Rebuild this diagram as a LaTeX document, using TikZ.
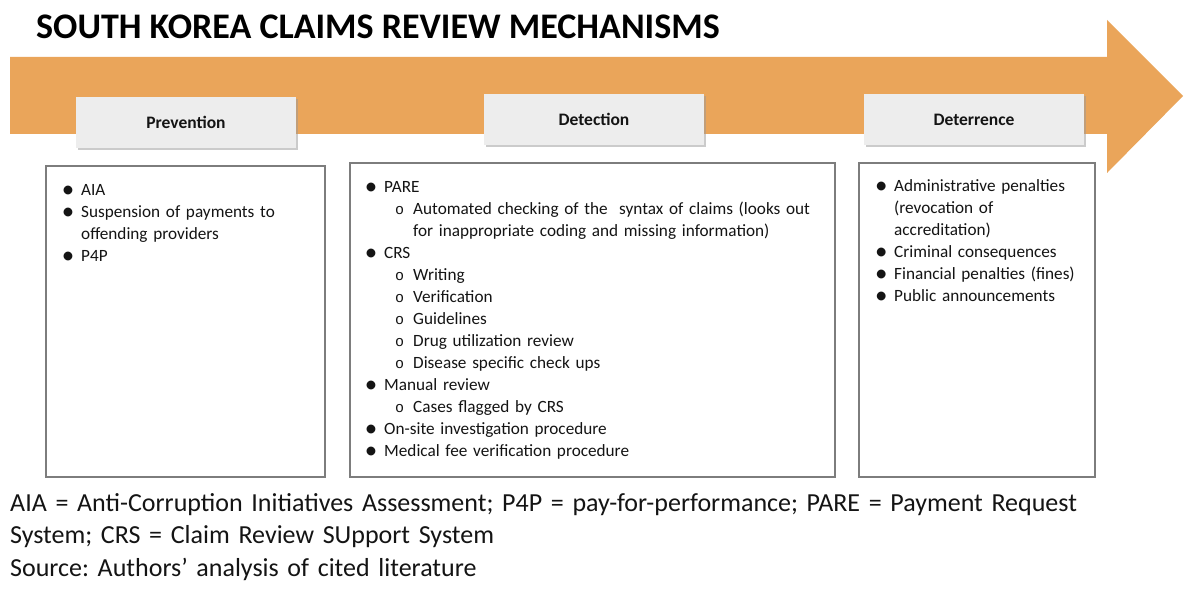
\documentclass[tikz,border=0pt]{standalone}
\usepackage{fontspec}
\setmainfont{Carlito}
\newfontfamily\ringfont{Liberation Mono}
\usetikzlibrary{positioning,shadows}
\definecolor{arroworange}{RGB}{234,165,90}
\definecolor{headgray}{RGB}{237,237,237}
\definecolor{framegray}{RGB}{125,125,125}
\definecolor{inktext}{RGB}{20,20,20}
\frenchspacing
% list entries: filled bullet, then open ring one level down
\newcommand{\mainpt}{\par\noindent\hangindent=26pt\hangafter=1\makebox[26pt][c]{\raisebox{-0.1em}{\scalebox{1.45}{\textbullet}}}}
\newcommand{\subpt}{\par\noindent\hangindent=55pt\hangafter=1\makebox[55pt][l]{\hspace{37pt}{\ringfont\fontsize{15}{22}\selectfont o}}}

\begin{document}
\begin{tikzpicture}[x=1pt,y=-1pt]
\tikzset{headbox/.style={rectangle,fill=headgray,minimum width=220,minimum height=51,font=\fontsize{17.5}{20}\selectfont\bfseries,text=inktext,drop shadow={shadow xshift=1.5pt,shadow yshift=-2.5pt,fill=black!40}}}
\tikzset{framebox/.style={rectangle,draw=framegray,line width=1.2pt,fill=white}}
\tikzset{listtext/.style={anchor=base west,inner sep=0,align=left,text=inktext,font=\fontsize{17.2}{22}\selectfont}}
\useasboundingbox (0,0) rectangle (1194,596);
\fill[white] (0,0) rectangle (1194,596);
% the big arrow
\fill[arroworange] (10,57) -- (1107,57) -- (1107,20) -- (1183,96) -- (1107,173) -- (1107,134) -- (10,134) -- cycle;
\node[anchor=base west,inner sep=0,font=\fontsize{36}{40}\selectfont\bfseries] (title) at (36,39) {SOUTH KOREA CLAIMS REVIEW MECHANISMS};
\node[headbox] (prevh) at (186,122.5) {Prevention};
\node[headbox] (deth) at (594,119.5) {Detection};
\node[headbox] (deterh) at (974,119.5) {Deterrence};
\node[framebox,minimum width=279,minimum height=311] (prevb) at (185.5,321.5) {};
\node[framebox,minimum width=485,minimum height=314] (detb) at (592.5,320) {};
\node[framebox,minimum width=236,minimum height=314] (deterb) at (977,320) {};
% base anchor sits on an empty first line, hence 22 higher
\node[listtext,text width=262] (prevl) at (55,174) {%
\mainpt AIA
\mainpt Suspension of payments to\newline offending providers
\mainpt P4P};
\node[listtext,text width=470] (detl) at (358,171) {%
\mainpt PARE
\subpt Automated checking of the\ \ syntax of claims (looks out\newline for inappropriate coding and missing information)
\mainpt CRS
\subpt Writing
\subpt Verification
\subpt Guidelines
\subpt Drug utilization review
\subpt Disease specific check ups
\mainpt Manual review
\subpt Cases flagged by CRS
\mainpt On-site investigation procedure
\mainpt Medical fee verification procedure};
\node[listtext,text width=228] (deterl) at (868,170) {%
\mainpt Administrative penalties\newline (revocation of\newline accreditation)
\mainpt Criminal consequences
\mainpt Financial penalties (fines)
\mainpt Public announcements};
\node[listtext,text width=1180,font=\fontsize{26}{32.5}\selectfont] (notes) at (10,511) {%
AIA = Anti-Corruption Initiatives Assessment; P4P = pay-for-performance; PARE = Payment Request\\
System; CRS = Claim Review SUpport System\\
Source: Authors’ analysis of cited literature};
\end{tikzpicture}
\end{document}
